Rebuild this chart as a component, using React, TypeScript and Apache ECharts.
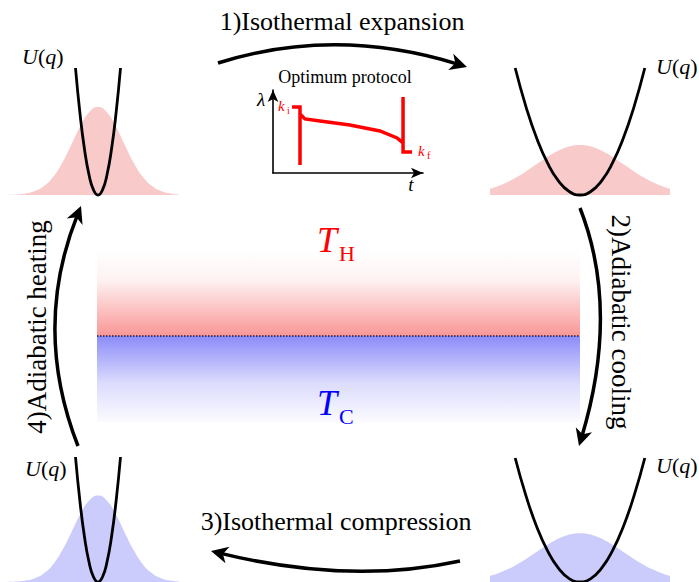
import React, { useEffect, useRef } from "react";
import * as echarts from "echarts";

// ---- data ----
// narrow distribution (hot/cold stiff trap), q positions and density heights
const Q_NARROW = [-1.0, -0.9, -0.8, -0.7, -0.6, -0.5, -0.4, -0.3, -0.2, -0.1, 0, 0.1, 0.2, 0.3, 0.4, 0.5, 0.6, 0.7, 0.8, 0.9];
const P_NARROW = [0.15, 0.5, 1.5, 3.9, 8.9, 17.9, 31.7, 49.6, 68.2, 82.6, 88, 82.6, 68.2, 49.6, 31.7, 17.9, 8.9, 3.9, 1.5, 0.5];
// wide distribution (soft trap)
const Q_WIDE = [-1.0, -0.9, -0.8, -0.7, -0.6, -0.5, -0.4, -0.3, -0.2, -0.1, 0, 0.1, 0.2, 0.3, 0.4, 0.5, 0.6, 0.7, 0.8, 0.9, 1.0];
const P_WIDE = [6.2, 9.2, 13.2, 18.0, 23.6, 29.7, 35.8, 41.4, 46.0, 49.0, 50, 49.0, 46.0, 41.4, 35.8, 29.7, 23.6, 18.0, 13.2, 9.2, 6.2];
// stiff potential U(q)
const Q_STIFF = [-0.25, -0.2, -0.15, -0.1, -0.05, 0, 0.05, 0.1, 0.15, 0.2, 0.25];
const U_STIFF = [127, 81.3, 45.7, 20.3, 5.1, 0, 5.1, 20.3, 45.7, 81.3, 127];
// soft potential U(q)
const Q_SOFT = [-0.72, -0.6, -0.48, -0.36, -0.24, -0.12, 0, 0.12, 0.24, 0.36, 0.48, 0.6, 0.72];
const U_SOFT = [127, 88.2, 56.4, 31.8, 14.1, 3.5, 0, 3.5, 14.1, 31.8, 56.4, 88.2, 127];
// optimum protocol lambda(t)
const T_PROTO = [0.127, 0.18, 0.18, 0.18, 0.213, 0.313, 0.513, 0.713, 0.827, 0.867, 0.867, 0.867, 0.927];
const L_PROTO = [0.795, 0.795, 0.096, 0.711, 0.651, 0.627, 0.578, 0.506, 0.422, 0.361, 0.916, 0.253, 0.253];

const STEP_LABELS = ["1)Isothermal expansion", "2)Adiabatic cooling", "3)Isothermal compression", "4)Adiabatic heating"];

const SERIF = "Liberation Serif";
const RED_FILL = "#f9caca";
const BLUE_FILL = "#cbcbfc";

const pairs = (xs: number[], ys: number[]) => xs.map((x, i) => [x, ys[i]]);

function arrow(sx: number, sy: number, cx: number, cy: number, tx: number, ty: number) {
  let dx = tx - cx, dy = ty - cy;
  const n = Math.hypot(dx, dy);
  dx /= n; dy /= n;
  const len = 17, half = 8.5;
  const ex = tx - dx * 9, ey = ty - dy * 9;
  const bx = tx - dx * len, by = ty - dy * len;
  const px = -dy, py = dx;
  const ix = tx - dx * len * 0.72, iy = ty - dy * len * 0.72;
  return [
    {
      type: "bezierCurve",
      shape: { x1: sx, y1: sy, x2: ex, y2: ey, cpx1: cx, cpy1: cy },
      style: { stroke: "#000", lineWidth: 3.5, fill: "none" },
      z: 10,
    },
    {
      type: "polygon",
      shape: { points: [[tx, ty], [bx + px * half, by + py * half], [ix, iy], [bx - px * half, by - py * half]] },
      style: { fill: "#000" },
      z: 11,
    },
  ];
}

function uLabel(x: number, y: number) {
  return {
    type: "text",
    x, y,
    style: {
      text: "{i|U}{n|(}{i|q}{n|)}",
      align: "left",
      verticalAlign: "middle",
      rich: {
        i: { fontStyle: "italic", fontFamily: SERIF, fontSize: 22 },
        n: { fontFamily: SERIF, fontSize: 22 },
      },
    },
    z: 12,
  };
}

function txt(text: string, x: number, y: number, size: number, opts: any = {}) {
  const style: any = {
    text,
    fontFamily: SERIF,
    fontSize: size,
    fill: opts.color || "#000",
    align: opts.align || "center",
    verticalAlign: "middle",
  };
  if (opts.italic) style.fontStyle = "italic";
  return { type: "text", x, y, rotation: opts.rotation || 0, style, z: 12 };
}

export default function App() {
  const ref = useRef<HTMLDivElement>(null);
  useEffect(() => {
    if (!ref.current) return;
    const chart = echarts.init(ref.current, null, { renderer: "svg" });
    const panels = [
      { left: 8, top: 68 },
      { left: 490, top: 68 },
      { left: 8, top: 457 },
      { left: 490, top: 458 },
    ];
    const grid: any[] = panels.map((p) => ({ left: p.left, top: p.top, width: 180, height: 127 }));
    grid.push({ left: 273, top: 90, width: 150, height: 83 });
    const xAxis: any[] = panels.map((_, i) => ({ type: "value", gridIndex: i, min: -1, max: 1, show: false }));
    const yAxis: any[] = panels.map((_, i) => ({ type: "value", gridIndex: i, min: 0, max: 127, show: false }));
    const insetAxis = (extra: any) => ({
      type: "value", gridIndex: 4, min: 0, max: 1,
      axisLine: { show: true, symbol: ["none", "arrow"], symbolSize: [8, 12], lineStyle: { color: "#000", width: 1.6 } },
      axisTick: { show: false }, axisLabel: { show: false }, splitLine: { show: false },
      ...extra,
    });
    xAxis.push(insetAxis({}));
    yAxis.push(insetAxis({}));

    const dist = (i: number, q: number[], p: number[], color: string) => ({
      type: "line", xAxisIndex: i, yAxisIndex: i, data: pairs(q, p), smooth: true, showSymbol: false,
      lineStyle: { width: 0 }, areaStyle: { color, opacity: 1 }, clip: false, silent: true,
    });
    const pot = (i: number, q: number[], u: number[]) => ({
      type: "line", xAxisIndex: i, yAxisIndex: i, data: pairs(q, u), smooth: true, showSymbol: false,
      lineStyle: { width: 2.8, color: "#000" }, clip: false, silent: true, z: 3,
    });

    const series: any[] = [
      dist(0, Q_NARROW, P_NARROW, RED_FILL), pot(0, Q_STIFF, U_STIFF),
      dist(1, Q_WIDE, P_WIDE, RED_FILL), pot(1, Q_SOFT, U_SOFT),
      dist(2, Q_NARROW, P_NARROW, BLUE_FILL), pot(2, Q_STIFF, U_STIFF),
      dist(3, Q_WIDE, P_WIDE, BLUE_FILL), pot(3, Q_SOFT, U_SOFT),
      {
        type: "line", xAxisIndex: 4, yAxisIndex: 4, data: pairs(T_PROTO, L_PROTO), showSymbol: false,
        lineStyle: { width: 3.5, color: "#ff0000", join: "miter" }, clip: false, silent: true,
      },
    ];

    const graphic: any[] = [
      {
        type: "rect", shape: { x: 97, y: 250, width: 483, height: 86 },
        style: {
          fill: new echarts.graphic.LinearGradient(0, 0, 0, 1, [
            { offset: 0, color: "#ffffff" },
            { offset: 0.35, color: "#fef2f2" },
            { offset: 1, color: "#fa9696" },
          ]),
        },
        z: 1,
      },
      {
        type: "rect", shape: { x: 97, y: 336, width: 483, height: 86 },
        style: {
          fill: new echarts.graphic.LinearGradient(0, 0, 0, 1, [
            { offset: 0, color: "#8c8cfa" },
            { offset: 0.55, color: "#dcdcfd" },
            { offset: 1, color: "#fbfbff" },
          ]),
        },
        z: 1,
      },
      {
        type: "line", shape: { x1: 97, y1: 336, x2: 580, y2: 336 },
        style: { stroke: "#1a1a40", lineWidth: 1.3, lineDash: [1.5, 1.5] }, z: 2,
      },
      ...arrow(218, 63, 335, 26, 467, 67),
      ...arrow(580, 208, 620, 310, 579, 446),
      ...arrow(460, 561, 350, 585, 211, 551),
      ...arrow(78, 446, 32, 328, 81, 206),
      txt(STEP_LABELS[0], 342, 21, 26),
      txt(STEP_LABELS[1], 621, 322, 27, { rotation: -Math.PI / 2 }),
      txt(STEP_LABELS[2], 336, 521, 26),
      txt(STEP_LABELS[3], 37, 327, 27, { rotation: Math.PI / 2 }),
      uLabel(22, 56),
      uLabel(656, 66),
      uLabel(25, 468),
      uLabel(656, 465),
      // T_H and T_C
      txt("T", 317, 240, 36, { italic: true, align: "left", color: "#ff0000" }),
      txt("H", 339, 253, 22, { align: "left", color: "#ff0000" }),
      txt("T", 317, 403, 36, { italic: true, align: "left", color: "#0000ff" }),
      txt("C", 339, 416, 22, { align: "left", color: "#0000ff" }),
      // inset labels
      txt("Optimum protocol", 345, 77, 18),
      txt("λ", 261, 99, 19, { italic: true }),
      txt("t", 411, 184, 19, { italic: true }),
      txt("k", 278, 106, 15, { italic: true, align: "left", color: "#ff0000" }),
      txt("i", 287, 110, 10, { align: "left", color: "#ff0000" }),
      txt("k", 418, 151, 15, { italic: true, align: "left", color: "#ff0000" }),
      txt("f", 427, 155, 10, { align: "left", color: "#ff0000" }),
    ];

    chart.setOption({
      animation: false,
      backgroundColor: "#ffffff",
      grid, xAxis, yAxis, series, graphic,
    });
    return () => chart.dispose();
  }, []);
  return <div ref={ref} style={{ position: "fixed", left: 0, top: 0, width: 699, height: 582 }} />;
}
